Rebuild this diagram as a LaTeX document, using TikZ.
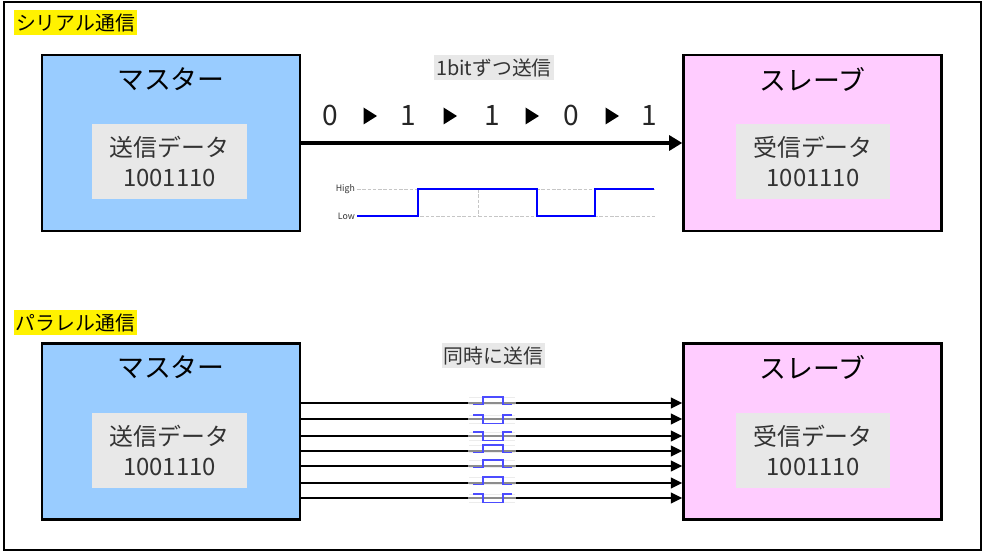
\documentclass[tikz,border=0pt]{standalone}
\usepackage{fontspec}
\setmainfont{Noto Sans CJK JP}
\usetikzlibrary{positioning,arrows.meta}
\definecolor{masterblue}{HTML}{99CCFF}
\definecolor{slavepink}{HTML}{FFCCFF}
\definecolor{datagray}{HTML}{E8E8E8}
\definecolor{textgray}{HTML}{333333}
\definecolor{wireblue}{HTML}{0000FF}

\begin{document}
\begin{tikzpicture}[x=0.02cm, y=-0.02cm,
	device/.style = {draw, line width=1.4pt,
		minimum width=5.16cm, minimum height=3.52cm},
	title/.style = {font=\fontsize{15.3}{18}\selectfont},
	data/.style = {fill=datagray, text=textgray, align=center,
		minimum width=3.1cm, minimum height=1.5cm, inner sep=0pt,
		font=\fontsize{13.6}{17.6}\selectfont},
	section/.style = {fill=yellow, inner sep=1pt, minimum height=0.5cm,
		font=\fontsize{11.3}{13}\selectfont},
	caption/.style = {fill=datagray, text=textgray, inner sep=1pt,
		minimum height=0.5cm, font=\fontsize{11.3}{13}\selectfont},
	bit/.style = {text=black!85, font=\fontsize{16}{18}\selectfont},
	level/.style = {text=textgray, anchor=east, inner sep=1pt,
		font=\fontsize{5}{6}\selectfont},
	grid/.style = {gray!45, line width=0.4pt, dash pattern=on 2pt off 1pt},
	wire/.style = {line width=1.2pt, -{Triangle[length=6.5pt, width=6pt]}}]

	\useasboundingbox (0,0) rectangle (985,553);
	\draw[line width=1.2pt] (4,2) rectangle (981,550);

	% serial
	\node[section] (serial) at (75.5,22.5) {シリアル通信};
	\node[device, fill=masterblue] (smaster) at (171,143) {};
	\node[device, fill=slavepink] (sslave) at (812.5,143) {};
	\node[title] (smtitle) at (171,79) {マスター};
	\node[title] (sstitle) at (812.5,79) {スレーブ};
	\node[data] (ssend) at (169.5,161.5) {送信データ\\1001110};
	\node[data] (srecv) at (813,161.5) {受信データ\\1001110};

	\draw[line width=2.8pt, -{Triangle[length=7.5pt, width=8.5pt]}] (smaster) -- (sslave);
	\node[caption] (sbit) at (494,67.5) {1bitずつ送信};

	\foreach \x/\b [count=\i] in {330/0,408/1,492/1,571/0,649/1}
		\node[bit] (bit\i) at (\x,115.5) {\b};
	\foreach \x in {370,450,532,612}
		\fill (\x-6.5,107.5) -- (\x+7,116) -- (\x-6.5,124.5) -- cycle;

	\node[level] (high) at (357,189) {High};
	\node[level] (low) at (357,216) {Low};
	\draw[grid] (high.east) -- (655,189);
	\draw[grid] (low.east) -- (655,216);
	\draw[grid] (478,189) -- (478,216);
	\draw[wireblue, line width=1.4pt] (low.east) -- (418,216) -- (418,189)
		-- (537,189) -- (537,216) -- (595,216) -- (595,189) -- (654,189);

	% parallel
	\node[section] (parallel) at (75.5,322.5) {パラレル通信};
	\node[device, fill=masterblue] (pmaster) at (171,431.5) {};
	\node[device, fill=slavepink] (pslave) at (812.5,431.5) {};
	\node[title] (pmtitle) at (171,367) {マスター};
	\node[title] (pstitle) at (812.5,367) {スレーブ};
	\node[data] (psend) at (169.5,450.5) {送信データ\\1001110};
	\node[data] (precv) at (813,450.5) {受信データ\\1001110};
	\node[caption] (pbit) at (493.5,356) {同時に送信};

	\foreach \y/\v in {403/1,419/0,436/0,451/1,466/1,483/1,498/0} {
		\draw[wire] (pmaster.east |- 0,\y) -- (pslave.west |- 0,\y);
		\pgfmathsetmacro\lo{\v==1 ? \y+1.5 : \y-4}
		\pgfmathsetmacro\hi{\v==1 ? \y-6 : \y+4.5}
		\draw[gray!15, line width=0.3pt] (469,\lo) -- (515,\lo) (469,\hi) -- (515,\hi);
		\draw[gray!90, line width=1.7pt] (468,\y) -- (516,\y);
		\draw[wireblue!70, line width=0.7pt] (473,\lo) -- (483,\lo) -- (483,\hi)
			-- (503,\hi) -- (503,\lo) -- (512,\lo);
	}

\end{tikzpicture}
\end{document}
